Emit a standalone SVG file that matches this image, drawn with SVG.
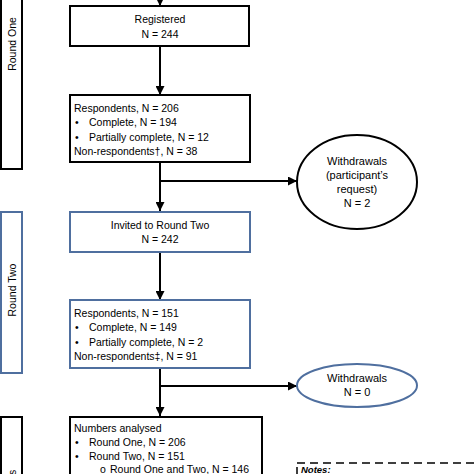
<svg xmlns="http://www.w3.org/2000/svg" width="474" height="474" viewBox="0 0 474 474">
<style>
text{font-family:"Liberation Sans",Arial,sans-serif;font-size:10.5px;fill:#000}
.c{text-anchor:middle}
.box{fill:#fff;stroke:#000;stroke-width:2}
.blue{fill:#fff;stroke:#4f6f9f;stroke-width:2}
.el{font-size:11px}
.conn{stroke:#000;stroke-width:2;fill:none}
</style>
<defs>
<marker id="ah" viewBox="0 0 10 10" markerWidth="9" markerHeight="9" markerUnits="userSpaceOnUse" refX="10" refY="5" orient="auto">
<path d="M0,0 L10,5 L0,10 z" fill="#000"/>
</marker>
</defs>
<rect width="474" height="474" fill="#fff"/>

<g id="side-round-one">
<rect x="1" y="-5" width="21" height="174" class="box"/>
<text class="c" transform="translate(15.8,44) rotate(-90)">Round One</text>
</g>
<g id="side-round-two">
<rect x="1" y="212" width="21" height="161" class="blue"/>
<text class="c" transform="translate(15.8,290) rotate(-90)">Round Two</text>
</g>
<g id="side-analysis">
<rect x="1" y="417" width="21" height="70" class="box"/>
<text transform="translate(15.8,475) rotate(-90)">s</text>
</g>

<g id="connectors">
<line x1="160" y1="-2" x2="160" y2="6" class="conn" marker-end="url(#ah)"/>
<line x1="160" y1="46" x2="160" y2="95" class="conn" marker-end="url(#ah)"/>
<line x1="160" y1="162" x2="160" y2="211" class="conn" marker-end="url(#ah)"/>
<line x1="160" y1="181" x2="297" y2="181" class="conn" marker-end="url(#ah)"/>
<line x1="160" y1="252" x2="160" y2="300" class="conn" marker-end="url(#ah)"/>
<line x1="160" y1="368" x2="160" y2="416" class="conn" marker-end="url(#ah)"/>
<line x1="160" y1="386" x2="297" y2="386" class="conn" marker-end="url(#ah)"/>
</g>

<g id="registered">
<rect x="70" y="6" width="179" height="40" class="box"/>
<text class="c" x="160" y="23">Registered</text>
<text class="c" x="160" y="37.5">N = 244</text>
</g>

<g id="respondents-one">
<rect x="70" y="95" width="180" height="67" class="box"/>
<text x="74" y="111.5">Respondents, N = 206</text>
<text x="75" y="126">•</text><text x="89" y="126">Complete, N = 194</text>
<text x="75" y="140.5">•</text><text x="89" y="140.5">Partially complete, N = 12</text>
<text x="74" y="155">Non-respondents†, N = 38</text>
</g>

<g id="withdrawals-one">
<ellipse cx="357" cy="182" rx="60" ry="47" fill="#fff" stroke="#000" stroke-width="2"/>
<text class="c el" x="357" y="164.5">Withdrawals</text>
<text class="c el" x="357" y="179">(participant’s</text>
<text class="c el" x="357" y="193">request)</text>
<text class="c el" x="357" y="207">N = 2</text>
</g>

<g id="invited">
<rect x="70" y="212" width="180" height="40" class="blue"/>
<text class="c" x="160" y="229">Invited to Round Two</text>
<text class="c" x="160" y="243">N = 242</text>
</g>

<g id="respondents-two">
<rect x="70" y="300" width="180" height="68" class="blue"/>
<text x="74" y="316.5">Respondents, N = 151</text>
<text x="75" y="331">•</text><text x="89" y="331">Complete, N = 149</text>
<text x="75" y="346">•</text><text x="89" y="346">Partially complete, N = 2</text>
<text x="74" y="360">Non-respondents‡, N = 91</text>
</g>

<g id="withdrawals-two">
<ellipse cx="357" cy="385.5" rx="60" ry="21.5" fill="#fff" stroke="#4f6f9f" stroke-width="2"/>
<text class="c el" x="357" y="382">Withdrawals</text>
<text class="c el" x="357" y="396">N = 0</text>
</g>

<g id="numbers-analysed">
<rect x="70" y="417" width="192" height="70" class="box"/>
<text x="74" y="431.5">Numbers analysed</text>
<text x="75" y="445.5">•</text><text x="89" y="445.5">Round One, N = 206</text>
<text x="75" y="460">•</text><text x="89" y="460">Round Two, N = 151</text>
<text x="100" y="473">o</text><text x="110" y="473">Round One and Two, N = 146</text>
</g>

<g id="notes">
<rect x="297" y="463" width="200" height="40" fill="#fff" stroke="#000" stroke-width="1.5" stroke-dasharray="8 5"/>
<text x="301" y="472.5" style="font-weight:bold;font-style:italic;font-size:9.5px">Notes:</text>
</g>
</svg>
